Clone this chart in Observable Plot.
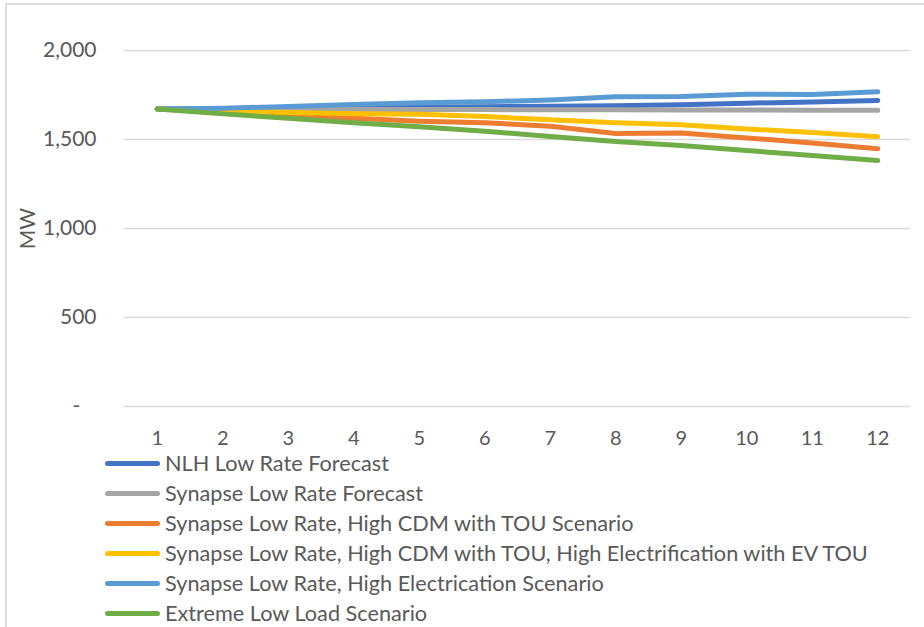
<!DOCTYPE html>
<html>
<head>
<meta charset="utf-8">
<script src="https://cdn.jsdelivr.net/npm/d3@7"></script>
<script src="https://cdn.jsdelivr.net/npm/@observablehq/plot@0.6"></script>
<style>
  html, body { margin: 0; padding: 0; background: #fff; overflow: hidden; }
  body { width: 924px; height: 627px; position: relative; font-family: Lato, "Open Sans", sans-serif; color: #595959; }
  #frame { position: absolute; left: 5px; top: 3px; width: 940px; height: 640px; border-left: 2px solid #dcdcdc; border-top: 2px solid #dcdcdc; }
  #chart { position: absolute; left: 0; top: 0; }
  #chart svg { background: transparent; }
  #legend { position: absolute; left: 105px; top: 448px; }
  .row { display: flex; align-items: center; height: 30px; }
  .sw { width: 55px; height: 5px; border-radius: 3px; margin-right: 5px; }
  .lab { font-size: 21.7px; white-space: nowrap; color: #595959; }
</style>
</head>
<body>
<div id="frame"></div>
<div id="chart"></div>
<div id="legend"></div>
<script>
// Categories (x axis)
const months = [1, 2, 3, 4, 5, 6, 7, 8, 9, 10, 11, 12];

// Series names (legend order = draw order)
const seriesNames = [
  "NLH Low Rate Forecast",
  "Synapse Low Rate Forecast",
  "Synapse Low Rate, High CDM with TOU Scenario",
  "Synapse Low Rate, High CDM with TOU, High Electrification with EV TOU",
  "Synapse Low Rate, High Electrication Scenario",
  "Extreme Low Load Scenario"
];
const seriesColors = ["#4472C4", "#A5A5A5", "#ED7D31", "#FFC000", "#5B9BD5", "#70AD47"];

// Series values (MW)
const nlhLowRate        = [1672, 1672, 1675, 1678, 1681, 1684, 1687, 1690, 1695, 1704, 1711, 1719];
const synapseLowRate    = [1672, 1671, 1670, 1669, 1668, 1668, 1667, 1667, 1666, 1666, 1665, 1665];
const highCdmTou        = [1672, 1655, 1637, 1620, 1603, 1594, 1575, 1534, 1536, 1509, 1480, 1448];
const highCdmTouElecEv  = [1672, 1662, 1652, 1645, 1642, 1629, 1611, 1594, 1583, 1559, 1539, 1516];
const highElectrication = [1672, 1675, 1686, 1697, 1706, 1712, 1722, 1740, 1742, 1754, 1753, 1768];
const extremeLowLoad    = [1672, 1644, 1620, 1594, 1572, 1547, 1517, 1489, 1466, 1438, 1410, 1382];

// Y ticks
const yTicks = [0, 500, 1000, 1500, 2000];

const seriesValues = [nlhLowRate, synapseLowRate, highCdmTou, highCdmTouElecEv, highElectrication, extremeLowLoad];
const data = seriesNames.flatMap((name, i) =>
  months.map((m, j) => ({series: name, month: m, value: seriesValues[i][j]}))
);

const fmt = d3.format(",");
const chart = Plot.plot({
  width: 924,
  height: 448,
  marginLeft: 124,
  marginRight: 14,
  marginTop: 50,
  marginBottom: 42,
  style: {fontFamily: "Lato, 'Open Sans', sans-serif", color: "#595959", background: "transparent", overflow: "visible"},
  x: {type: "linear", domain: [0.5, 12.5]},
  y: {domain: [0, 2000]},
  color: {domain: seriesNames, range: seriesColors},
  marks: [
    Plot.ruleY(yTicks, {stroke: "#d9d9d9", strokeWidth: 1.5}),
    Plot.axisY({ticks: yTicks, tickSize: 0, tickPadding: 28, fontSize: 21,
      tickFormat: d => d === 0 ? "-\u00a0\u00a0\u00a0" : fmt(d),
      label: "MW", labelAnchor: "center", labelArrow: "none", labelOffset: 104}),
    Plot.axisX({ticks: months, tickSize: 0, tickPadding: 24, fontSize: 20, tickFormat: d => String(d), label: null}),
    Plot.line(data, {x: "month", y: "value", z: "series", stroke: "series",
      strokeWidth: 5, strokeLinecap: "round", strokeLinejoin: "round"})
  ]
});
document.getElementById("chart").appendChild(chart);

const legend = document.getElementById("legend");
seriesNames.forEach((name, i) => {
  const row = document.createElement("div");
  row.className = "row";
  const sw = document.createElement("div");
  sw.className = "sw";
  sw.style.background = seriesColors[i];
  const lab = document.createElement("div");
  lab.className = "lab";
  lab.textContent = name;
  row.appendChild(sw);
  row.appendChild(lab);
  legend.appendChild(row);
});
</script>
</body>
</html>
